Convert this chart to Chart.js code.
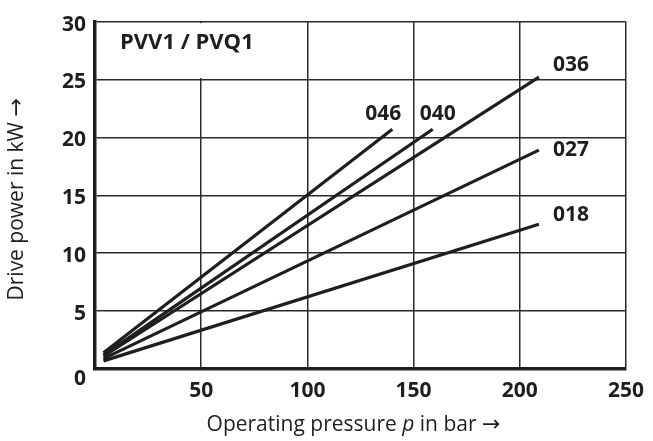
<!DOCTYPE html>
<html><head><meta charset="utf-8">
<script src="https://cdn.jsdelivr.net/npm/chart.js@4.4.1/dist/chart.umd.min.js"></script>
<style>html,body{margin:0;padding:0;background:#fff}#wrap{width:653px;height:441px}</style>
</head><body><div id="wrap"><canvas id="c" width="653" height="441"></canvas></div>
<script>
// ---- data ----
const seriesNames   = ['046', '040', '036', '027', '018'];
const pressureStart = [4, 4, 4, 4, 4];
const pressureEnd   = [140, 159, 209, 209, 209];
const powerStart    = [1.4, 1.2, 1.1, 0.9, 0.7];
const powerEnd      = [20.7, 20.7, 25.2, 18.9, 12.5];
const xTicks = [0, 50, 100, 150, 200, 250];
const yTicks = [0, 5, 10, 15, 20, 25, 30];
const chartTitle = 'PVV1 / PVQ1';
const xTitleParts = ['Operating pressure ', 'p', ' in bar ', '\u2192'];
const yTitleParts = ['Drive power in kW ', '\u2192'];
// title cell: the 50-bar grid line is interrupted between these power values
const titleCellX = 50;
const titleCellY = [25, 30];

// ---- styles ----
const INK = '#1e1e1e';
const FONT = "'Open Sans', 'Noto Sans', sans-serif";
const ARROWFONT = "'DejaVu Sans', sans-serif";
const labelOffsets = { '046': [-9, -15, 'center'], '040': [5, -15, 'center'], '036': [14, -12, 'left'], '027': [14, 0, 'left'], '018': [14, -9, 'left'] };
const tickFont = { family: FONT, size: 21, weight: 'bold' };

const datasets = seriesNames.map((n, i) => ({
  label: n,
  data: [{x: pressureStart[i], y: powerStart[i]}, {x: pressureEnd[i], y: powerEnd[i]}],
  borderColor: INK, borderWidth: 3.2, pointRadius: 0, fill: false, tension: 0,
  borderCapStyle: 'butt'
}));

function drawParts(ctx, parts, fonts, cx, cy) {
  const widths = parts.map((p, i) => { ctx.font = fonts[i]; return ctx.measureText(p).width; });
  let sx = cx - widths.reduce((a, b) => a + b, 0) / 2;
  parts.forEach((p, i) => { ctx.font = fonts[i]; ctx.fillText(p, sx, cy); sx += widths[i]; });
}

const decorPlugin = {
  id: 'decor',
  beforeDatasetsDraw(chart) {
    const {ctx, scales: {x, y}} = chart;
    const gx = x.getPixelForValue(titleCellX);
    const y1 = y.getPixelForValue(titleCellY[1]) + 1.5;
    const y2 = y.getPixelForValue(titleCellY[0]) - 1.5;
    ctx.save();
    ctx.fillStyle = '#ffffff';
    ctx.fillRect(gx - 2, y1, 4, y2 - y1);
    ctx.restore();
  },
  afterDatasetsDraw(chart) {
    const {ctx, chartArea, scales: {x, y}} = chart;
    ctx.save();
    ctx.fillStyle = INK;
    ctx.font = "bold 21px " + FONT;
    ctx.textBaseline = 'middle';
    seriesNames.forEach((n, i) => {
      const px = x.getPixelForValue(pressureEnd[i]);
      const py = y.getPixelForValue(powerEnd[i]);
      const o = labelOffsets[n];
      ctx.textAlign = o[2];
      ctx.fillText(n, px + o[0], py + o[1]);
    });
    ctx.textAlign = 'left';
    ctx.font = "bold 22px " + FONT;
    ctx.fillText(chartTitle, chartArea.left + 25, chartArea.top + 21);
    // x title with italic p
    const f1 = "21px " + FONT;
    drawParts(ctx, xTitleParts, [f1, "italic 21px " + FONT, f1, "22px " + ARROWFONT],
              (chartArea.left + chartArea.right) / 2 - 7, 425);
    // y title
    ctx.translate(17, (chartArea.top + chartArea.bottom) / 2 + 4);
    ctx.rotate(-Math.PI / 2);
    drawParts(ctx, yTitleParts, [f1, "22px " + ARROWFONT], 0, 0);
    ctx.restore();
  }
};

new Chart(document.getElementById('c'), {
  type: 'line',
  data: { datasets },
  options: {
    responsive: false, devicePixelRatio: 1, animation: false,
    layout: { padding: { left: 0, top: 16, right: 23, bottom: 0 } },
    plugins: { legend: { display: false }, tooltip: { enabled: false } },
    scales: {
      x: {
        type: 'linear', min: 0, max: 250,
        afterBuildTicks: s => { s.ticks = xTicks.map(v => ({value: v})); },
        afterFit: s => { s.height = 72; },
        grid: { color: '#2a2a2a', lineWidth: 1.5, drawTicks: false },
        border: { color: INK, width: 3.5 },
        ticks: { color: INK, font: tickFont, padding: 9,
                 maxRotation: 0, callback: v => v === 0 ? '' : String(v) },
        title: { display: false }
      },
      y: {
        type: 'linear', min: 0, max: 30,
        afterBuildTicks: s => { s.ticks = yTicks.map(v => ({value: v})); },
        afterFit: s => { s.width = 95; },
        grid: { color: '#2a2a2a', lineWidth: 1.5, drawTicks: false },
        border: { color: INK, width: 3.5 },
        ticks: { color: INK, padding: 9, labelOffset: 3,
                 font: c => (c.tick && c.tick.value === 0) ? Object.assign({}, tickFont, {lineHeight: '14px'}) : tickFont,
                 callback: v => v === 0 ? ['', '0'] : String(v) },
        title: { display: false }
      }
    }
  },
  plugins: [decorPlugin]
});
</script></body></html>
